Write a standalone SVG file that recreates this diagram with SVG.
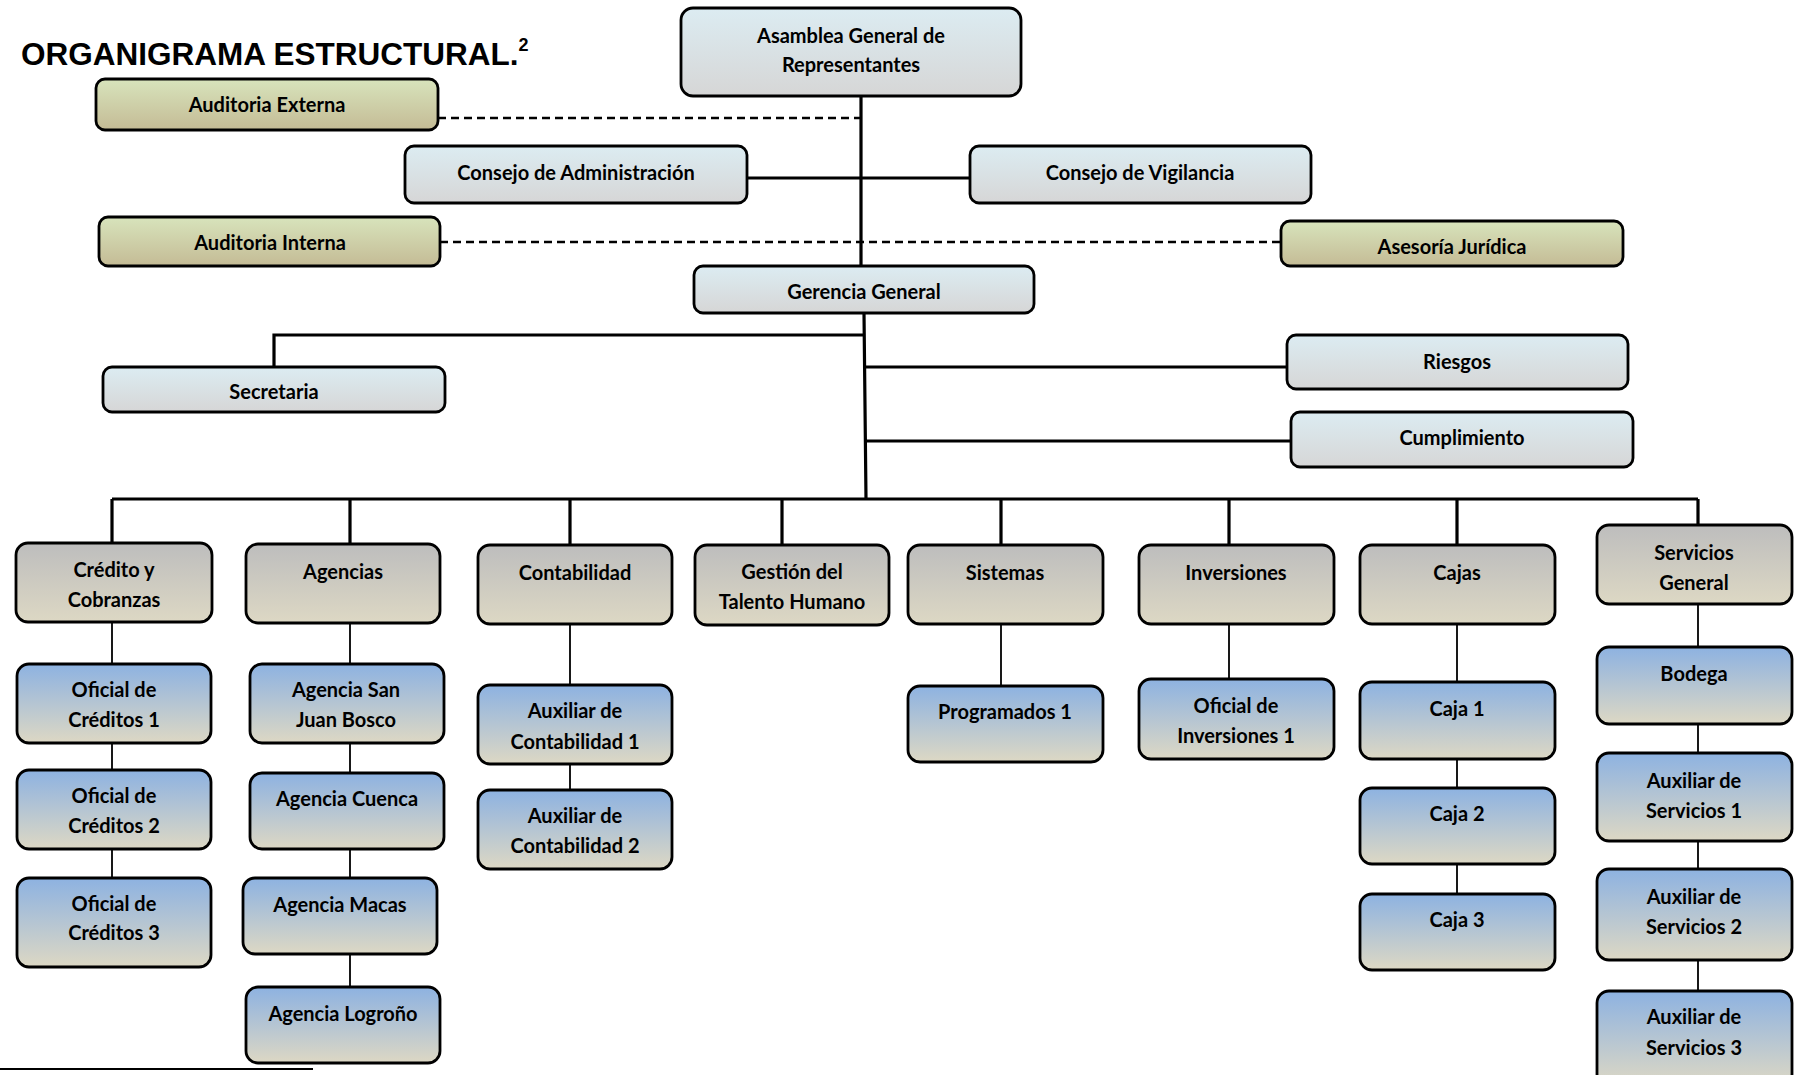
<svg xmlns="http://www.w3.org/2000/svg" width="1798" height="1075" viewBox="0 0 1798 1075">
<defs>
<linearGradient id="gTop" x1="0" y1="0" x2="0" y2="1"><stop offset="0" stop-color="#dcecf2"/><stop offset="1" stop-color="#d6d6d6"/></linearGradient>
<linearGradient id="gOlive" x1="0" y1="0" x2="0" y2="1"><stop offset="0" stop-color="#d8e4bc"/><stop offset="1" stop-color="#c4bb95"/></linearGradient>
<linearGradient id="gGray" x1="0" y1="0" x2="0" y2="1"><stop offset="0" stop-color="#bdbdbd"/><stop offset="1" stop-color="#ddd8c4"/></linearGradient>
<linearGradient id="gBlue" x1="0" y1="0" x2="0" y2="1"><stop offset="0" stop-color="#8db2e1"/><stop offset="1" stop-color="#ddd8c4"/></linearGradient>
</defs>
<style>
.b rect{stroke:#000;stroke-width:2.8}
.top rect{fill:url(#gTop)}
.ol rect{fill:url(#gOlive)}
.gr rect{fill:url(#gGray)}
.bl rect{fill:url(#gBlue)}
text{font-family:Lato,"Open Sans","Liberation Sans",sans-serif;font-weight:bold;font-size:20px;text-anchor:middle;fill:#000}
.thick{stroke:#000;stroke-width:3.2;fill:none}
.thin{stroke:#000;stroke-width:1.8;fill:none}
.dash{stroke:#000;stroke-width:2.5;fill:none;stroke-dasharray:8 5}
</style>
<text x="21" y="65" style="font-family:'Liberation Sans',Arial,sans-serif;font-size:31.5px;text-anchor:start">ORGANIGRAMA ESTRUCTURAL.<tspan dy="-14" font-size="18">2</tspan></text>
<path d="M0 1069H313" stroke="#000" stroke-width="2"/>
<g id="connectors">
<path class="dash" d="M438 118H861M440 242H1281"/>
<path class="thick" d="M861 96V266M747 178H970M864 313L866 499M864 335H274V367M865 367H1287M865 441H1291M112 499H1698M112 499V543M350 499V544M570 499V545M782 499V545M1001 499V545M1229 499V545M1457 499V545M1698 499V525"/>
<path class="thin" d="M112 622V664M112 743V770M112 849V878M350 623V664M350 743V773M350 849V878M350 954V987M570 624V685M570 764V790M1001 624V686M1229 624V679M1457 624V682M1457 759V788M1457 864V894M1698 604V647M1698 724V753M1698 841V869M1698 960V991"/>
</g>
<g id="asamblea" class="b top"><rect x="681" y="8" width="340" height="88" rx="12"/><text x="851" y="43">Asamblea General de</text><text x="851" y="72">Representantes</text></g>
<g id="auditoria-externa" class="b ol"><rect x="96" y="79" width="342" height="51" rx="9"/><text x="267" y="112">Auditoria Externa</text></g>
<g id="consejo-administracion" class="b top"><rect x="405" y="146" width="342" height="57" rx="9"/><text x="576" y="180">Consejo de Administración</text></g>
<g id="consejo-vigilancia" class="b top"><rect x="970" y="146" width="341" height="57" rx="9"/><text x="1140" y="180">Consejo de Vigilancia</text></g>
<g id="auditoria-interna" class="b ol"><rect x="99" y="217" width="341" height="49" rx="9"/><text x="270" y="250">Auditoria Interna</text></g>
<g id="asesoria-juridica" class="b ol"><rect x="1281" y="221" width="342" height="45" rx="9"/><text x="1452" y="254">Asesoría Jurídica</text></g>
<g id="gerencia-general" class="b top"><rect x="694" y="266" width="340" height="47" rx="9"/><text x="864" y="299">Gerencia General</text></g>
<g id="secretaria" class="b top"><rect x="103" y="367" width="342" height="45" rx="9"/><text x="274" y="399">Secretaria</text></g>
<g id="riesgos" class="b top"><rect x="1287" y="335" width="341" height="54" rx="9"/><text x="1457" y="369">Riesgos</text></g>
<g id="cumplimiento" class="b top"><rect x="1291" y="412" width="342" height="55" rx="9"/><text x="1462" y="445">Cumplimiento</text></g>
<g id="credito" class="b gr"><rect x="16" y="543" width="196" height="79" rx="12"/><text x="114" y="577">Crédito y</text><text x="114" y="607">Cobranzas</text></g>
<g id="agencias" class="b gr"><rect x="246" y="544" width="194" height="79" rx="12"/><text x="343" y="579">Agencias</text></g>
<g id="contabilidad" class="b gr"><rect x="478" y="545" width="194" height="79" rx="12"/><text x="575" y="580">Contabilidad</text></g>
<g id="talento-humano" class="b gr"><rect x="695" y="545" width="194" height="80" rx="12"/><text x="792" y="579">Gestión del</text><text x="792" y="609">Talento Humano</text></g>
<g id="sistemas" class="b gr"><rect x="908" y="545" width="195" height="79" rx="12"/><text x="1005" y="580">Sistemas</text></g>
<g id="inversiones" class="b gr"><rect x="1139" y="545" width="195" height="79" rx="12"/><text x="1236" y="580">Inversiones</text></g>
<g id="cajas" class="b gr"><rect x="1360" y="545" width="195" height="79" rx="12"/><text x="1457" y="580">Cajas</text></g>
<g id="servicios-general" class="b gr"><rect x="1597" y="525" width="195" height="79" rx="12"/><text x="1694" y="560">Servicios</text><text x="1694" y="590">General</text></g>
<g id="oficial-creditos-1" class="b bl"><rect x="17" y="664" width="194" height="79" rx="12"/><text x="114" y="697">Oficial de</text><text x="114" y="727">Créditos 1</text></g>
<g id="oficial-creditos-2" class="b bl"><rect x="17" y="770" width="194" height="79" rx="12"/><text x="114" y="803">Oficial de</text><text x="114" y="833">Créditos 2</text></g>
<g id="oficial-creditos-3" class="b bl"><rect x="17" y="878" width="194" height="89" rx="12"/><text x="114" y="911">Oficial de</text><text x="114" y="940">Créditos 3</text></g>
<g id="agencia-san-juan-bosco" class="b bl"><rect x="250" y="664" width="194" height="79" rx="12"/><text x="346" y="697">Agencia San</text><text x="346" y="727">Juan Bosco</text></g>
<g id="agencia-cuenca" class="b bl"><rect x="250" y="773" width="194" height="76" rx="12"/><text x="347" y="806">Agencia Cuenca</text></g>
<g id="agencia-macas" class="b bl"><rect x="243" y="878" width="194" height="76" rx="12"/><text x="340" y="912">Agencia Macas</text></g>
<g id="agencia-logrono" class="b bl"><rect x="246" y="987" width="194" height="76" rx="12"/><text x="343" y="1021">Agencia Logroño</text></g>
<g id="auxiliar-contabilidad-1" class="b bl"><rect x="478" y="685" width="194" height="79" rx="12"/><text x="575" y="718">Auxiliar de</text><text x="575" y="749">Contabilidad 1</text></g>
<g id="auxiliar-contabilidad-2" class="b bl"><rect x="478" y="790" width="194" height="79" rx="12"/><text x="575" y="823">Auxiliar de</text><text x="575" y="853">Contabilidad 2</text></g>
<g id="programados-1" class="b bl"><rect x="908" y="686" width="195" height="76" rx="12"/><text x="1005" y="719">Programados 1</text></g>
<g id="oficial-inversiones-1" class="b bl"><rect x="1139" y="679" width="195" height="80" rx="12"/><text x="1236" y="713">Oficial de</text><text x="1236" y="743">Inversiones 1</text></g>
<g id="caja-1" class="b bl"><rect x="1360" y="682" width="195" height="77" rx="12"/><text x="1457" y="716">Caja 1</text></g>
<g id="caja-2" class="b bl"><rect x="1360" y="788" width="195" height="76" rx="12"/><text x="1457" y="821">Caja 2</text></g>
<g id="caja-3" class="b bl"><rect x="1360" y="894" width="195" height="76" rx="12"/><text x="1457" y="927">Caja 3</text></g>
<g id="bodega" class="b bl"><rect x="1597" y="647" width="195" height="77" rx="12"/><text x="1694" y="681">Bodega</text></g>
<g id="auxiliar-servicios-1" class="b bl"><rect x="1597" y="753" width="195" height="88" rx="12"/><text x="1694" y="788">Auxiliar de</text><text x="1694" y="818">Servicios 1</text></g>
<g id="auxiliar-servicios-2" class="b bl"><rect x="1597" y="869" width="195" height="91" rx="12"/><text x="1694" y="904">Auxiliar de</text><text x="1694" y="934">Servicios 2</text></g>
<g id="auxiliar-servicios-3" class="b bl"><rect x="1597" y="991" width="195" height="95" rx="12"/><text x="1694" y="1024">Auxiliar de</text><text x="1694" y="1055">Servicios 3</text></g>
</svg>
